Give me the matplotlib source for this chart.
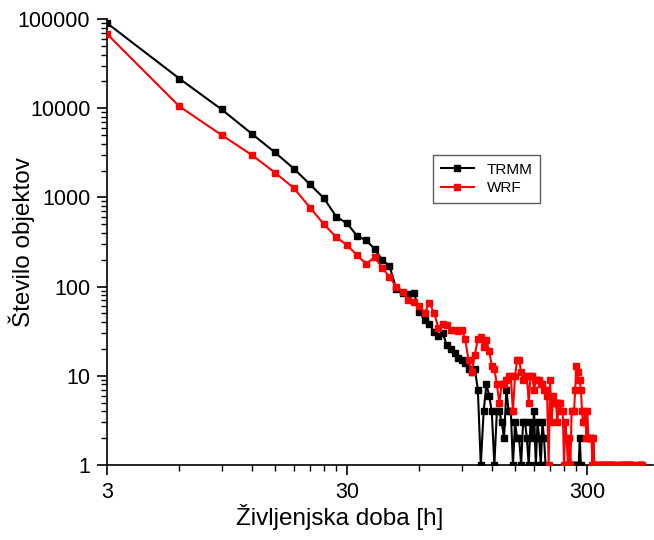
import numpy as np
import matplotlib
matplotlib.use("Agg")
import matplotlib.pyplot as plt
from matplotlib.ticker import FixedLocator, FixedFormatter, LogLocator, NullFormatter

plt.rcParams['font.family'] = ['Liberation Sans', 'DejaVu Sans']

# Lifetime in hours (3-hour steps)
nan = np.nan
trmm_counts = [
    90000, 21500, 9700, 5200, 3200, 2100, 1400, 980, 610, 510,       # 3-30
    370, 330, 265, 200, 170, 95, 85, 82, 84, 52,                     # 33-60
    42, 38, 31, 28, 30, 22, 20, 18, 16, 15,                          # 63-90
    14, 12, 11, 12, 7, 1, 4, 8, 6, 4,                                # 93-120
    1, 4, 4, 3, 2, 7, 4, 4, 1, 3,                                    # 123-150
    2, 2, 1, 3, 3, 2, 1, 3, 2, 4,                                    # 153-180
    1, 3, 2, 1, 3, 2, 1, nan, nan, nan,                              # 183-210
    nan, nan, nan, nan, nan, nan, nan, nan, nan, nan,                # 213-240
    nan, 1, 1, 1, 1, 1, 1, 1, nan, 1,                                # 243-270
    nan, 1, 2, 1, nan, nan, nan, nan, nan, nan,                      # 273-300
    nan, nan, nan, nan, nan, nan, nan, nan, nan, nan,                # 303-330
    nan, nan, nan, nan, nan, nan, nan, nan, nan, nan,                # 333-360
    nan, nan, nan, nan, nan, nan, nan, nan, 1, nan,                  # 363-390
]

wrf_counts = [
    68000, 10500, 5000, 3000, 1900, 1270, 770, 500, 360, 290,       # 3-30
    225, 180, 213, 163, 128, 100, 88, 70, 67, 60,                    # 33-60
    51, 65, 51, 34, 38, 37, 33, 33, 32, 33,                          # 63-90
    26, 15, 11, 17, 26, 27, 21, 25, 19, 13,                          # 93-120
    12, 8, 5, 8, 8, 9, 10, 10, 4, 10,                                # 123-150
    15, 15, 11, 9, 10, 10, 5, 10, 10, 7,                             # 153-180
    9, 9, 9, 8, 8, 7, 7, 6, 1, 9,                                    # 183-210
    3, 6, 5, 5, 3, 5, 5, 4, 4, 1,                                    # 213-240
    3, 2, 1, 2, 1, 4, 4, 4, 7, 13,                                   # 243-270
    11, 9, 9, 7, 4, 3, 3, 4, 2, 4,                                   # 273-300
    2, 2, 2, 2, 1, 2, 1, 1, 1, 1,                                    # 303-330
    1, 1, 1, 1, 1, 1, 1, 1, 1, 1,                                    # 333-360
    1, 1, 1, 1, 1, 1, 1, 1, 1, nan,                                  # 363-390
    nan, nan, nan, nan, nan, 1, 1, 1, 1, 1,                          # 393-420
    1, 1, 1, 1, 1, 1, 1, 1, 1, 1,                                    # 423-450
    1, 1, 1, 1, nan, nan, nan, nan, nan, nan,                        # 453-480
    nan, nan, nan, 1, 1, 1, 1, 1, 1,                                 # 483-507
]

trmm_hours = 3 * np.arange(1, len(trmm_counts) + 1)
wrf_hours = 3 * np.arange(1, len(wrf_counts) + 1)

x_major = [3, 30, 300]
x_major_labels = ["3", "30", "300"]
y_major = [1, 10, 100, 1000, 10000, 100000]
y_major_labels = ["1", "10", "100", "1000", "10000", "100000"]

fig = plt.figure(figsize=(6.54, 5.40), dpi=100)
ax = fig.add_axes([0.1636, 0.1389, 0.8349, 0.8259])

ax.plot(trmm_hours, trmm_counts, color="black", lw=1.5, marker="s",
        ms=4.6, label="TRMM", zorder=3)
ax.plot(wrf_hours, wrf_counts, color="#ff0000", lw=1.5, marker="s",
        ms=4.6, label="WRF", zorder=4)

ax.set_xscale("log")
ax.set_yscale("log")
ax.set_xlim(3, 563)
ax.set_ylim(1, 100000)

ax.xaxis.set_major_locator(FixedLocator(x_major))
ax.xaxis.set_major_formatter(FixedFormatter(x_major_labels))
x_minor = [m * d for d in (3, 30, 300) for m in range(2, 10)]
ax.xaxis.set_minor_locator(FixedLocator(x_minor))
ax.xaxis.set_minor_formatter(NullFormatter())

ax.yaxis.set_major_locator(FixedLocator(y_major))
ax.yaxis.set_major_formatter(FixedFormatter(y_major_labels))
ax.yaxis.set_minor_locator(LogLocator(base=10, subs=np.arange(2, 10)))
ax.yaxis.set_minor_formatter(NullFormatter())

for side in ("top", "right"):
    ax.spines[side].set_visible(False)
for side in ("left", "bottom"):
    ax.spines[side].set_linewidth(1.2)

ax.tick_params(axis="both", which="major", direction="out", length=7,
               width=1.2, labelsize=15.5, pad=5)
ax.tick_params(axis="both", which="minor", direction="out", length=4,
               width=1.0)

ax.set_xlabel("Življenjska doba [h]", fontsize=17.5)
ax.set_ylabel("Število objektov", fontsize=17.5)
ax.xaxis.set_label_coords(0.427, -0.088)
ax.yaxis.set_label_coords(-0.132, 0.5)

leg = ax.legend(loc="upper left", bbox_to_anchor=(0.597, 0.695),
                fontsize=11, frameon=True, fancybox=False,
                borderpad=0.5, handlelength=2.2, labelspacing=0.3,
                edgecolor="#333333", borderaxespad=0)
leg.get_frame().set_linewidth(1.0)

fig.savefig("out.png", dpi=100)
